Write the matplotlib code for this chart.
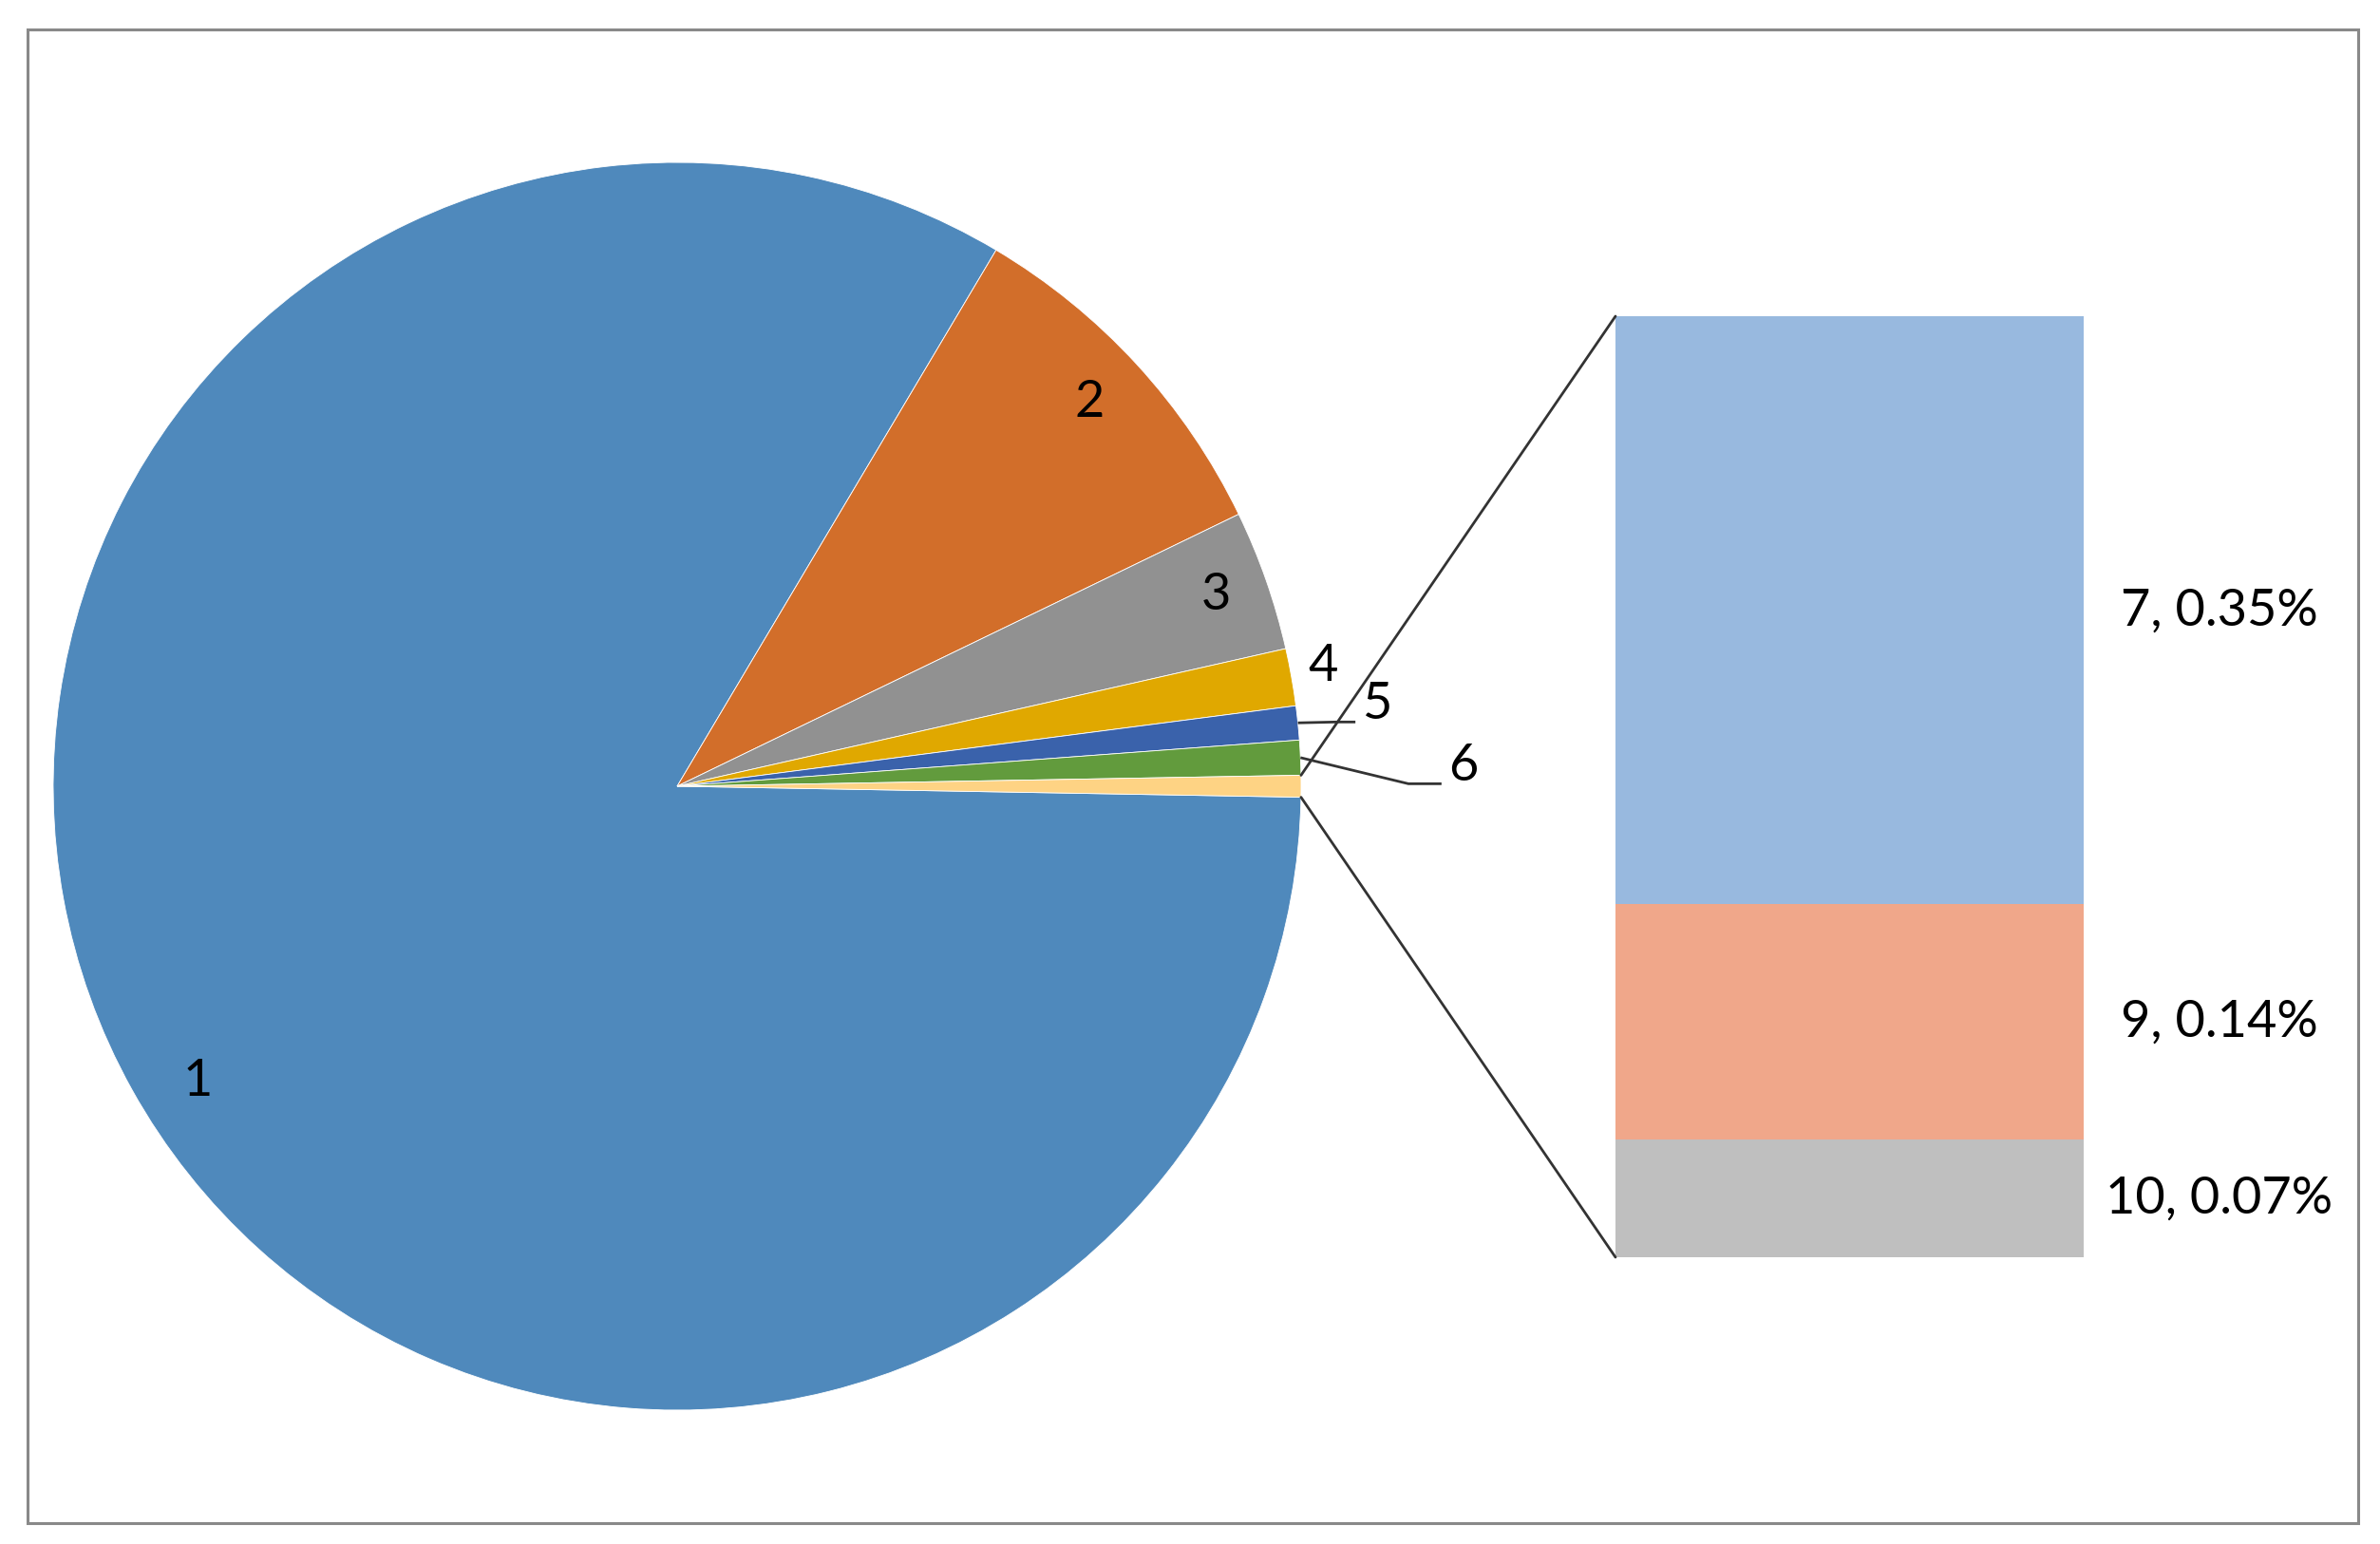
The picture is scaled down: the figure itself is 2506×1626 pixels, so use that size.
import numpy as np
import matplotlib
matplotlib.use("Agg")
import matplotlib.pyplot as plt
from matplotlib.patches import ConnectionPatch, Rectangle

plt.rcParams['font.family'] = ['Lato', 'DejaVu Sans']

# pie slices (percent), the last pie slice is the sum of the bar items
pie_labels = ['1', '2', '3', '4', '5', '6']
pie_values = [83.26, 9.28, 3.64, 1.48, 0.88, 0.90]
pie_colors = ['#4F89BC', '#D26E2A', '#919191', '#E0A800', '#3A62AB', '#629B3D']
other_color = '#FED384'

# bar of "other" items, bottom to top
bar_items = ['10', '9', '7']
bar_values = [0.07, 0.14, 0.35]
bar_colors = ['#BFBFBF', '#F0A78A', '#98B9DF']

# label positions in pie axes units (radius 1 = pie edge)
label_pos = [(-0.769, -0.472), (0.661, 0.616), (0.863, 0.307),
             (1.035, 0.193), (1.122, 0.131), (1.260, 0.032)]
leader_len = {4: 0.031, 5: 0.053}   # labels 5 and 6 have leader lines

W, H = 2506, 1626
fig = plt.figure(figsize=(W / 100, H / 100), dpi=100)
fig.patch.set_facecolor('white')

# pie axes: centre (713, 828) px, radius 657 px
cx, cy, r = 713, 828, 657
ax1 = fig.add_axes([(cx - r) / W, (H - cy - r) / H, 2 * r / W, 2 * r / H])

other_total = sum(bar_values)
values = pie_values + [other_total]
colors = pie_colors + [other_color]
other_deg = other_total / sum(values) * 360
wedges, _ = ax1.pie(values, colors=colors, startangle=-other_deg / 2,
                    counterclock=False, radius=1,
                    wedgeprops=dict(edgecolor='white', linewidth=0.6))
ax1.set_xlim(-1, 1)
ax1.set_ylim(-1, 1)
ax1.set_aspect('equal')
ax1.axis('off')

fs = 39
line_col = '#333333'
for i, (lab, (lx, ly)) in enumerate(zip(pie_labels, label_pos)):
    ax1.text(lx, ly, lab, fontsize=fs, ha='center', va='center', color='black',
             clip_on=False)
    if i in leader_len:
        w = wedges[i]
        mid = np.deg2rad((w.theta1 + w.theta2) / 2)
        ex, ey = lx - 0.035, ly - 0.028
        bx = ex - leader_len[i]
        ax1.plot([np.cos(mid), bx, ex], [np.sin(mid), ey, ey],
                 color=line_col, lw=2, solid_capstyle='butt', clip_on=False)

# bar axes
ax2 = fig.add_axes([1701 / W, (H - 1324) / H, 493 / W, 991 / H])
ax2.set_xlim(-0.5, 0.5)
ax2.set_ylim(0, other_total)
ax2.axis('off')
bottom = 0
for item, v, c in zip(bar_items, bar_values, bar_colors):
    ax2.bar(0, v, width=1, bottom=bottom, color=c, edgecolor='none')
    ax2.text(0.79, bottom + v / 2, f'{item}, {v:.2f}%', fontsize=fs,
             ha='center', va='center', color='black', clip_on=False)
    bottom += v

# connector lines from the "other" slice to the bar
ow = wedges[-1]
t_top, t_bot = np.deg2rad(ow.theta2), np.deg2rad(ow.theta1)
for t, yb in [(t_top, other_total), (t_bot, 0)]:
    con = ConnectionPatch(xyA=(np.cos(t), np.sin(t)), coordsA=ax1.transData,
                          xyB=(-0.5, yb), coordsB=ax2.transData,
                          color=line_col, lw=2)
    fig.add_artist(con)

# chart frame
fig.patches.append(Rectangle((29 / W, (H - 1604) / H), (2483 - 29) / W, (1604 - 31) / H,
                             transform=fig.transFigure, fill=False,
                             edgecolor='#898989', linewidth=2.2))

fig.savefig('out.png', dpi=100)
